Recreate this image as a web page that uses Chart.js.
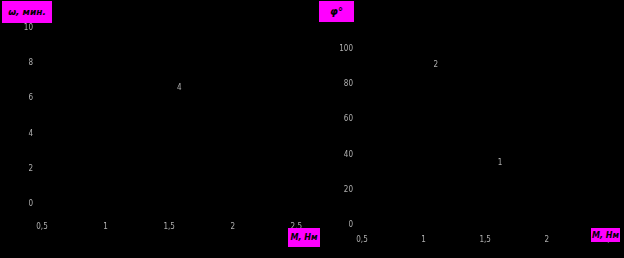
<!DOCTYPE html>
<html><head><meta charset="utf-8">
<script src="https://cdn.jsdelivr.net/npm/chart.js@4.4.1/dist/chart.umd.min.js"></script>
<style>
html,body{margin:0;padding:0;background:#000;width:624px;height:258px;overflow:hidden}
.c{position:absolute;top:0}
.box{position:absolute;background:#ff00ff;color:#000;font-family:"DejaVu Sans",sans-serif;font-style:italic;font-weight:bold;display:flex;align-items:center;justify-content:center;white-space:nowrap}
</style></head><body>
<div class="c" style="left:0;width:320px;height:258px"><canvas id="a" width="320" height="258"></canvas></div>
<div class="c" style="left:310px;width:314px;height:258px"><canvas id="b" width="314" height="258"></canvas></div>
<div class="box" style="left:2px;top:1px;width:50px;height:22px;font-size:9px">ω, мин.</div>
<div class="box" style="left:319px;top:1px;width:35px;height:21px;font-size:10px">φ°</div>
<div class="box" style="left:288px;top:228px;width:32px;height:19px;font-size:8px">M, Нм</div>
<div class="box" style="left:591px;top:228px;width:29px;height:14px;font-size:8px">M, Нм</div>
<script>
// Left chart: speed vs torque (curve 4)
const leftX = [0.5, 1.0, 1.5, 2.0, 2.5];
const curve4 = [7.4, 7.05, 6.7, 6.3, 5.9];
const leftYTicks = [0, 2, 4, 6, 8, 10];
// Right chart: angle vs torque (curves 1, 2)
const rightX = [0.5, 1.0, 1.5, 2.0, 2.5];
const curve1 = [12, 22, 32, 43, 54];
const curve2 = [97, 92, 86, 80, 74];
const rightYTicks = [0, 20, 40, 60, 80, 100];
const xTicks = [0.5, 1, 1.5, 2, 2.5];
// curve labels: [text, x, y]
const leftLabels = [["4", 1.58, 6.6]];
const rightLabels = [["2", 1.10, 91], ["1", 1.62, 35]];

const fmt = v => String(v).replace('.', ',');
const tickFont = {family: "DejaVu Sans Condensed, DejaVu Sans", size: 8};
const tickColor = '#b0b0b0';

function labelPlugin(list){
  return {id:'lbl', afterDatasetsDraw(ch){
    const c = ch.ctx; c.save();
    c.fillStyle = tickColor; c.font = '8px "DejaVu Sans Condensed", "DejaVu Sans"';
    c.textAlign='center'; c.textBaseline='middle';
    list.forEach(([t,x,y])=>c.fillText(t, ch.scales.x.getPixelForValue(x), ch.scales.y.getPixelForValue(y)));
    c.restore();
  }};
}

function make(id, xs, sets, yt, ymax, opts){
  return new Chart(document.getElementById(id), {
    type:'line',
    data:{datasets: sets.map(s=>({data: xs.map((x,i)=>({x, y:s[i]})), borderColor:'#000', borderWidth:1, pointRadius:0, tension:0.3}))},
    options:{
      responsive:false, animation:false, events:[],
      layout:{padding:{top:opts.top, right:opts.right, left:0, bottom:0}},
      plugins:{legend:{display:false}, tooltip:{enabled:false}},
      scales:{
        x:{type:'linear', min:0.5, max:2.5, grid:{display:false, drawTicks:false}, border:{color:'#000'},
           afterBuildTicks:s=>{s.ticks = xTicks.map(v=>({value:v}));},
           afterFit:s=>{s.height = opts.xh;},
           ticks:{color:tickColor, font:tickFont, padding:opts.xpad, maxRotation:0, callback:v=>fmt(v)}},
        y:{type:'linear', min:0, max:ymax, grid:{display:false, drawTicks:false}, border:{color:'#000'},
           afterBuildTicks:s=>{s.ticks = yt.map(v=>({value:v}));},
           afterFit:s=>{s.width = opts.yw;},
           ticks:{color:tickColor, font:tickFont, padding:opts.ypad, callback:v=>fmt(v)}}
      }
    },
    plugins:[labelPlugin(opts.labels)]
  });
}

make('a', leftX, [curve4], leftYTicks, 10, {top:28, right:18, xh:54, xpad:18, yw:42, ypad:9, labels:leftLabels});
make('b', rightX, [curve1, curve2], rightYTicks, 100, {top:49, right:14, xh:33, xpad:10, yw:52, ypad:9, labels:rightLabels});
</script>
</body></html>
